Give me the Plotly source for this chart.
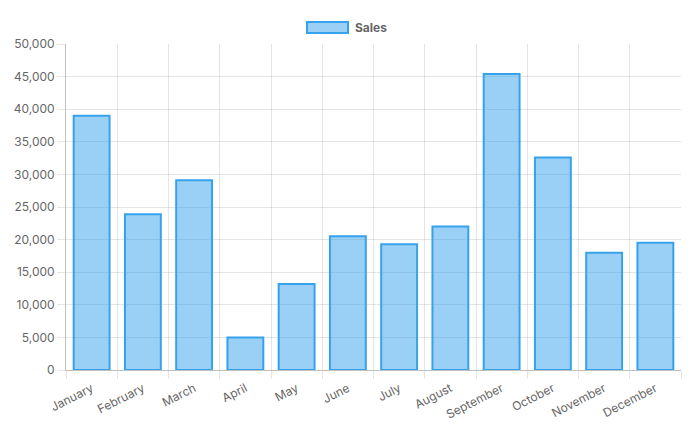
import plotly.graph_objects as go

months = ["January", "February", "March", "April", "May", "June", "July",
          "August", "September", "October", "November", "December"]
sales = [39000, 23900, 29100, 5000, 13200, 20500, 19300, 22000, 45400, 32600, 18000, 19500]
series_name = "Sales"
y_ticks = [0, 5000, 10000, 15000, 20000, 25000, 30000, 35000, 40000, 45000, 50000]

# page body has an 8px margin; figure coordinates are window minus 8
OFF = 8
W, H = 692 - OFF, 426 - OFF
L, T = 66 - OFF, 44 - OFF
R = W - (681 - OFF)
B = H - (370 - OFF)
pw, ph = W - L - R, H - T - B

def px(x):
    return (x - OFF - L) / pw

def py(y):
    return (H - B - (y - OFF)) / ph

fig = go.Figure()
fig.add_trace(go.Bar(
    x=months, y=sales, name=series_name,
    marker=dict(color="rgba(54,162,235,0.5)",
                line=dict(color="rgb(54,162,235)", width=2)),
    showlegend=False,
))

fam = "Inter, Roboto, Arial, sans-serif"
font = dict(family=fam, size=12, color="#666")
grid = "rgba(0,0,0,0.1)"

fig.update_layout(
    width=W, height=H,
    margin=dict(l=L, r=R, t=T, b=B, autoexpand=False),
    paper_bgcolor="white", plot_bgcolor="white",
    font=font,
    bargap=0.3,
    xaxis=dict(type="category", tickson="boundaries", showgrid=True, gridcolor=grid,
               gridwidth=1, ticks="outside", ticklen=8, tickcolor=grid,
               tickangle=-27, ticklabelstandoff=6, showline=True,
               linecolor="rgba(0,0,0,0.25)", automargin=False,
               linewidth=1, mirror=False, tickfont=font, zeroline=False),
    yaxis=dict(range=[0, 50000], tickvals=y_ticks, tickformat=",", showgrid=True,
               gridcolor=grid, ticks="outside", ticklen=8, tickcolor=grid,
               showline=True, linecolor="rgba(0,0,0,0.25)", linewidth=1,
               automargin=False, zeroline=False, tickfont=font),
    shapes=[
        dict(type="rect", xref="paper", yref="paper",
             x0=px(307), x1=px(348), y0=py(33), y1=py(22),
             fillcolor="rgba(54,162,235,0.5)", line=dict(color="rgb(54,162,235)", width=2)),
    ],
    annotations=[
        dict(text="<b>" + series_name + "</b>", xref="paper", yref="paper",
             x=px(353), y=py(27.5), xanchor="left", yanchor="middle",
             showarrow=False, font=dict(family=fam, size=12, color="#666")),
    ],
)

fig.write_html("out.html")
